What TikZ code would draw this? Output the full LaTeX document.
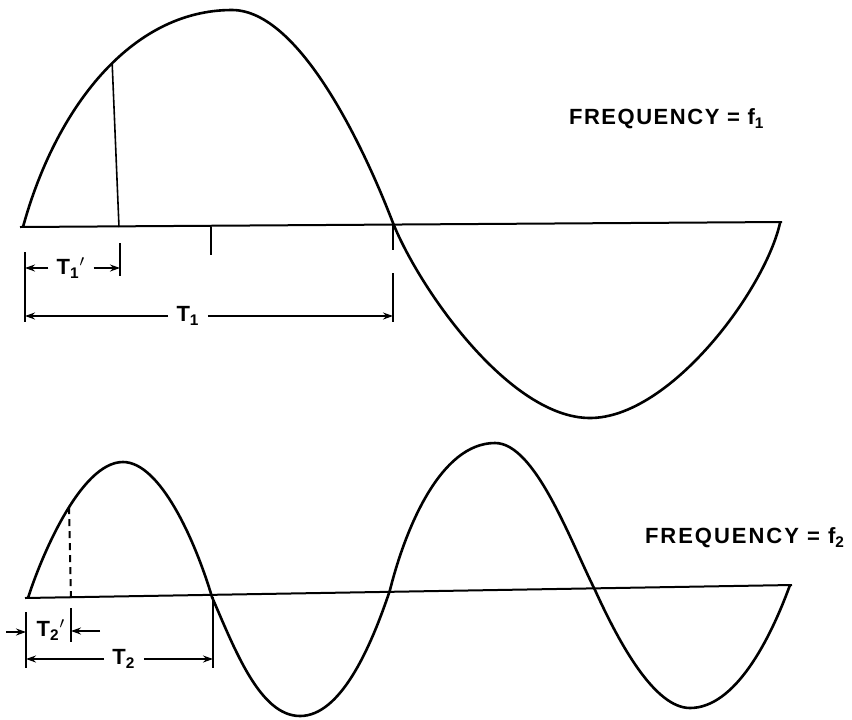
\documentclass[tikz,border=0pt]{standalone}
\usepackage{fontspec}
\setmainfont{Liberation Sans}
\newfontfamily\freqfont{Liberation Sans}[LetterSpace=7]
\usetikzlibrary{arrows.meta}
\begin{document}
\begin{tikzpicture}[x=0.5pt,y=-0.5pt,
  wave/.style={line width=1.3pt,line join=round},
  axisline/.style={line width=1pt},
  dimline/.style={line width=0.8pt},
  dimarrow/.style={line width=0.8pt,-{Stealth[length=5pt,width=3.5pt]}},
  lbl/.style={font=\bfseries\fontsize{11}{12}\selectfont,inner ysep=1pt,inner xsep=4pt},
  freq/.style={font=\freqfont\bfseries\fontsize{11}{13}\selectfont,anchor=west}]
\useasboundingbox (0,0) rectangle (852,719);
\draw[axisline] (20,227) -- (782,222);
\draw[wave] (23,227) .. controls (55,110) and (130,10) .. coordinate[pos=0.55] (c1) (232,10)
  .. controls (300,10) and (365,150) .. (393,223)
  .. controls (420,290) and (510,418) .. (590,418)
  .. controls (670,418) and (765,290) .. (780,223);
\draw[dimline] (c1) -- (119,227);
\coordinate (a0) at (25,227);
\coordinate (a1) at (120,227);
\coordinate (a2) at (393,224);
\draw[dimline] (211,227) -- (211,255);
\draw[dimline] (25,252) -- (25,322);
\draw[dimline] (120,243) -- (120,276);
\draw[dimline] (393,224) -- (393,250);
\draw[dimline] (393,273) -- (393,322);
\node[lbl] (t1p) at (71,268) {T\textsubscript{1}$^{\prime}$};
\draw[dimarrow] (t1p.west) -- (t1p.west -| a0);
\draw[dimarrow] (t1p.east) -- (t1p.east -| a1);
\node[lbl] (t1) at (188,316) {T\textsubscript{1}};
\draw[dimarrow] (t1.west) -- (t1.west -| a0);
\draw[dimarrow] (t1.east) -- (t1.east -| a2);
\node[freq] (f1) at (562,119) {FREQUENCY = f\textsubscript{1}};
\draw[axisline] (25,598) -- (792,585);
\draw[wave] (28,598) .. controls (40,560) and (80,462) .. coordinate[pos=0.55] (c2) (123,462)
  .. controls (160,462) and (195,540) .. (212,597)
  .. controls (235,650) and (260,716) .. (300,716)
  .. controls (340,716) and (370,650) .. (390,590)
  .. controls (405,530) and (440,443) .. (495,443)
  .. controls (535,443) and (570,540) .. (595,590)
  .. controls (620,645) and (655,708) .. (690,708)
  .. controls (735,708) and (770,640) .. (790,585);
\draw[dimline,line width=1pt,dash pattern=on 3.5pt off 2.5pt] (c2) -- (71,598);
\coordinate (b0) at (26,598);
\coordinate (b1) at (71,598);
\coordinate (b2) at (213,597);
\draw[dimline] (26,612) -- (26,668);
\draw[dimline] (71,608) -- (71,642);
\draw[dimline] (213,597) -- (213,668);
\node[lbl,inner xsep=1pt] (t2p) at (51,630) {T\textsubscript{2}$^{\prime}$};
\coordinate (p0) at (6,632);
\coordinate (p1) at (100,631);
\draw[dimarrow] (p0) -- (p0 -| b0);
\draw[dimarrow] (p1) -- (p1 -| b1);
\node[lbl] (t2) at (124,659) {T\textsubscript{2}};
\draw[dimarrow] (t2.west) -- (t2.west -| b0);
\draw[dimarrow] (t2.east) -- (t2.east -| b2);
\node[freq] (f2) at (638,538) {\addfontfeatures{LetterSpace=9}FREQUENCY = f\textsubscript{2}};
\end{tikzpicture}
\end{document}
